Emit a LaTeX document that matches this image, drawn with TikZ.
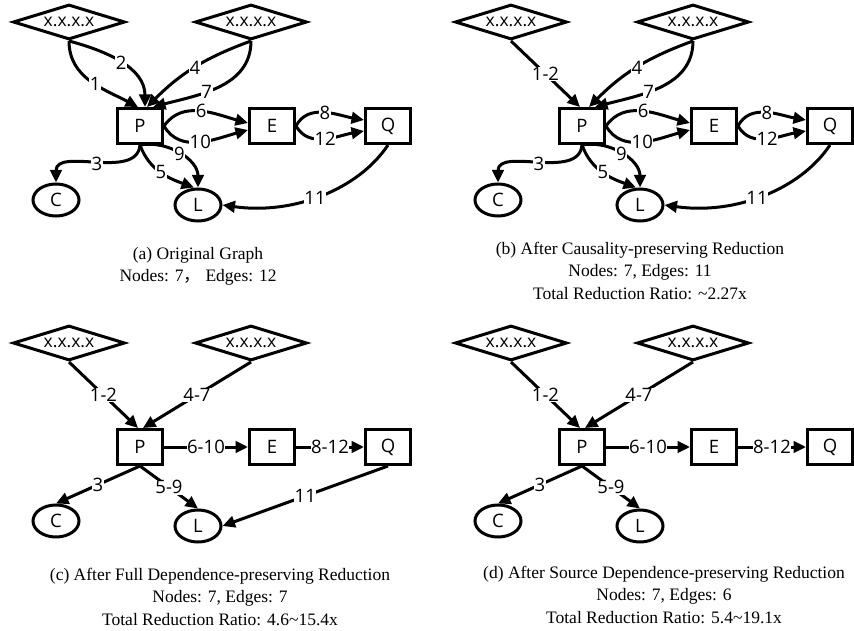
\documentclass[tikz,border=0pt]{standalone}
\usepackage{fontspec}
\setmainfont{Liberation Serif}
\newfontfamily\lblfont{Open Sans}
\newfontfamily\cjk{Noto Sans CJK SC}
\usetikzlibrary{shapes.geometric,arrows.meta}
\tikzset{
  gline/.style={line width=3pt},
  box/.style={draw, gline, rectangle, minimum width=45pt, minimum height=35pt, inner sep=0pt, font=\lblfont\fontsize{18.5}{20}\selectfont},
  oval/.style={draw, gline, ellipse, minimum width=46pt, minimum height=32pt, inner sep=0pt, font=\lblfont\fontsize{18.5}{20}\selectfont},
  dia/.style={draw, gline, diamond, aspect=3, minimum width=112pt, minimum height=35pt, inner sep=0pt, font=\lblfont\fontsize{17.5}{19}\selectfont},
  conn/.style={gline, -{Triangle[length=12.5pt,width=11.5pt]}},
  lbl/.style={fill=white, inner sep=0.6pt, font=\lblfont\fontsize{18.5}{20}\selectfont},
  capt/.style={align=center, inner sep=0pt, font=\fontsize{17.5}{22.5}\selectfont},
}
\newcommand\panelnodes[1]{%
  \node[dia] (#1D1) at (69,608) {x.x.x.x};
  \node[dia] (#1D2) at (251,608) {x.x.x.x};
  \node[box] (#1P) at (140,504) {P};
  \node[box] (#1E) at (272,504) {E};
  \node[box] (#1Q) at (388,504) {Q};
  \node[oval] (#1C) at (56,430) {C};
  \node[oval] (#1L) at (198,425) {L};
}
\begin{document}
\begin{tikzpicture}[x=1pt,y=1pt]
\useasboundingbox (0,0) rectangle (854,630);
\fill[white] (0,0) rectangle (854,630);

% ---------- (a) ----------
\begin{scope}
\panelnodes{a}
\draw[conn] (aD1.south) to[out=-90,in=152] node[lbl,pos=0.55]{1} ([xshift=-2pt]aP.north);
\draw[conn] (aD1.south) to[out=-15,in=90] node[lbl,pos=0.5]{2} ([xshift=5pt]aP.north);
\draw[conn] (aD2.south) to[out=-160,in=45] node[lbl,pos=0.5]{4} ([xshift=7pt]aP.north);
\draw[conn] (aD2.south) to[out=-90,in=15] node[lbl,pos=0.6]{7} ([xshift=13pt]aP.north);
\draw[conn] (aP.east) to[out=55,in=165] node[lbl]{6} ([yshift=3pt]aE.west);
\draw[conn] (aP.east) to[out=-60,in=-165] node[lbl]{10} ([yshift=-4pt]aE.west);
\draw[conn] (aE.east) to[out=62,in=170] node[lbl]{8} ([yshift=6pt]aQ.west);
\draw[conn] (aE.east) to[out=-60,in=-170] node[lbl]{12} ([yshift=-5pt]aQ.west);
\draw[conn] (aP.south) to[out=-95,in=90] node[lbl]{3} (aC.north);
\draw[conn] (aP.south) to[out=-70,in=160] node[lbl]{5} ([xshift=-4pt]aL.north);
\draw[conn] (aP.south) to[out=10,in=90] node[lbl]{9} (aL.north);
\draw[conn] (aQ.south) .. controls +(-30,-45) and +(70,-10) .. node[lbl,pos=0.53]{11} (aL.east);
\node[capt] (capa) at (198,363.5) {(a) Original Graph\\Nodes: 7{\cjk ，} Edges: 12};
\end{scope}

% ---------- (b) ----------
\begin{scope}[shift={(442,0)}]
\panelnodes{b}
\draw[conn] (bD1.south) -- node[lbl]{1-2} ([xshift=-2pt]bP.north);
\draw[conn] (bD2.south) to[out=-160,in=45] node[lbl,pos=0.5]{4} ([xshift=7pt]bP.north);
\draw[conn] (bD2.south) to[out=-90,in=15] node[lbl,pos=0.6]{7} ([xshift=13pt]bP.north);
\draw[conn] (bP.east) to[out=55,in=165] node[lbl]{6} ([yshift=3pt]bE.west);
\draw[conn] (bP.east) to[out=-60,in=-165] node[lbl]{10} ([yshift=-4pt]bE.west);
\draw[conn] (bE.east) to[out=62,in=170] node[lbl]{8} ([yshift=6pt]bQ.west);
\draw[conn] (bE.east) to[out=-60,in=-170] node[lbl]{12} ([yshift=-5pt]bQ.west);
\draw[conn] (bP.south) to[out=-95,in=90] node[lbl]{3} (bC.north);
\draw[conn] (bP.south) to[out=-70,in=160] node[lbl]{5} ([xshift=-4pt]bL.north);
\draw[conn] (bP.south) to[out=10,in=90] node[lbl]{9} (bL.north);
\draw[conn] (bQ.south) .. controls +(-30,-45) and +(70,-10) .. node[lbl,pos=0.53]{11} (bL.east);
\node[capt] (capb) at (198,359.5) {(b) After Causality-preserving Reduction\\Nodes: 7, Edges: 11\\Total Reduction Ratio: \textasciitilde2.27x};
\end{scope}

% ---------- (c) ----------
\begin{scope}[shift={(0,-321)}]
\panelnodes{c}
\draw[conn] (cD1.south) -- node[lbl]{1-2} ([xshift=-2pt]cP.north);
\draw[conn] (cD2.south) -- node[lbl]{4-7} ([xshift=3pt]cP.north);
\draw[conn] (cP.east) -- node[lbl]{6-10} (cE.west);
\draw[conn] (cE.east) -- node[lbl]{8-12} (cQ.west);
\draw[conn] (cP.south) -- node[lbl]{3} (cC.north);
\draw[conn] (cP.south) -- node[lbl]{5-9} (cL.north);
\draw[conn] (cQ.south) -- node[lbl]{11} (cL.east);
\node[capt] (capc) at (220,354.5) {(c) After Full Dependence-preserving Reduction\\Nodes: 7, Edges: 7\\Total Reduction Ratio: 4.6\textasciitilde15.4x};
\end{scope}

% ---------- (d) ----------
\begin{scope}[shift={(442,-321)}]
\panelnodes{d}
\draw[conn] (dD1.south) -- node[lbl]{1-2} ([xshift=-2pt]dP.north);
\draw[conn] (dD2.south) -- node[lbl]{4-7} ([xshift=3pt]dP.north);
\draw[conn] (dP.east) -- node[lbl]{6-10} (dE.west);
\draw[conn] (dE.east) -- node[lbl]{8-12} (dQ.west);
\draw[conn] (dP.south) -- node[lbl]{3} (dC.north);
\draw[conn] (dP.south) -- node[lbl]{5-9} (dL.north);
\node[capt] (capd) at (222,356.5) {(d) After Source Dependence-preserving Reduction\\Nodes: 7, Edges: 6\\Total Reduction Ratio: 5.4\textasciitilde19.1x};
\end{scope}
\end{tikzpicture}
\end{document}
